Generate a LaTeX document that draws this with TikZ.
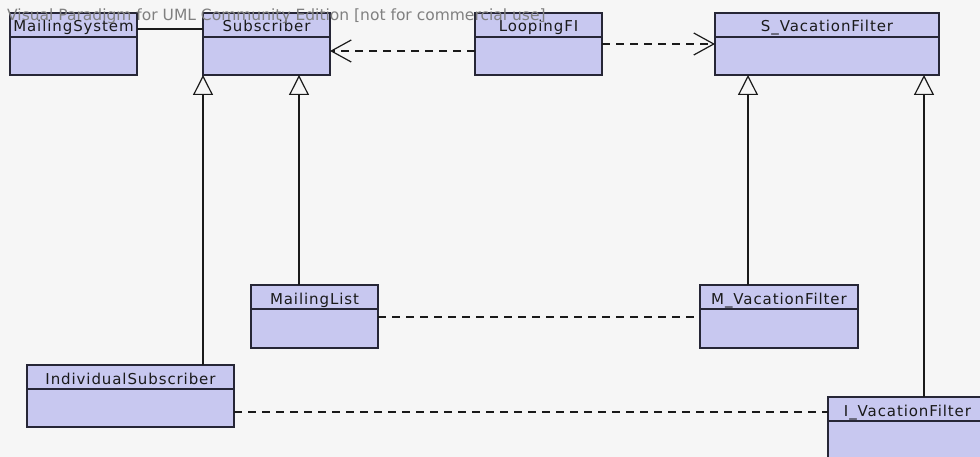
\documentclass[tikz,border=0pt]{standalone}
\usepackage{fontspec}
\usepackage{tikz}
\usetikzlibrary{arrows.meta}
\newfontfamily\umlfont[LetterSpace=6]{DejaVu Sans}
\newfontfamily\wmfont{DejaVu Sans}
\definecolor{bgc}{HTML}{F6F6F6}
\definecolor{clsfill}{HTML}{C8C8F0}
\definecolor{clsline}{HTML}{262636}
\definecolor{linec}{HTML}{1A1A1A}
\definecolor{wmgrey}{HTML}{808080}

\begin{document}
\begin{tikzpicture}[x=1pt, y=-1pt,
        cls/.style={draw=clsline, fill=clsfill, line width=1.5pt, anchor=north west, outer sep=0pt,
          inner xsep=0pt, inner ysep=0pt, minimum height=62pt, text height=19pt, text depth=43pt,
          font=\umlfont\fontsize{15}{17}\selectfont, text=linec,
          path picture={\draw[clsline, line width=1.5pt] ([yshift=-24pt]path picture bounding box.north west) -- ([yshift=-24pt]path picture bounding box.north east);}},
        assoc/.style={draw=linec, line width=1.2pt},
        link/.style={assoc, dash pattern=on 8pt off 6pt},
        dep/.style={link, -{Straight Barb[length=20pt, width=22pt, line width=1.2pt]}},
        gen/.style={assoc, -{Triangle[length=20pt, width=20pt, fill=bgc, line width=1.2pt]}},
        wm/.style={font=\wmfont\fontsize{15.5}{17}\selectfont, text=wmgrey, anchor=west, inner sep=0pt}]
      \fill[bgc] (0,0) rectangle (980,457);
      \useasboundingbox (0,0) rectangle (980,457);
      % classes
      \node[cls, minimum width=127pt] (ms) at (10,13) {MailingSystem};
      \node[cls, minimum width=127pt] (sub) at (203,13) {Subscriber};
      \node[cls, minimum width=127pt] (loop) at (475,13) {LoopingFI};
      \node[cls, minimum width=224pt] (svf) at (715,13) {S\_VacationFilter};
      \node[cls, minimum width=127pt, minimum height=63pt] (ml) at (251,285) {MailingList};
      \node[cls, minimum width=158pt, minimum height=63pt] (mvf) at (700,285) {M\_VacationFilter};
      \node[cls, minimum width=207pt] (isub) at (27,365) {IndividualSubscriber};
      \node[cls, minimum width=159pt] (ivf) at (828,397) {I\_VacationFilter};
      % connectors
      \draw[assoc] ([yshift=-16pt]ms.north east) -- ([yshift=-16pt]sub.north west);
      \draw[dep] ([yshift=-38pt]loop.north west) -- ([yshift=-38pt]sub.north east);
      \draw[dep] (loop.east) -- (svf.west);
      \draw[gen] ([xshift=176pt]isub.north west) -- ([xshift=176pt]isub.north west |- sub.south);
      \draw[gen] ([xshift=48pt]ml.north west) -- ([xshift=48pt]ml.north west |- sub.south);
      \draw[gen] ([xshift=48pt]mvf.north west) -- ([xshift=48pt]mvf.north west |- svf.south);
      \draw[gen] ([xshift=96pt]ivf.north west) -- ([xshift=96pt]ivf.north west |- svf.south);
      \draw[link] ([yshift=-32pt]ml.north east) -- ([yshift=-32pt]ml.north east -| mvf.west);
      \draw[link] ([yshift=-47pt]isub.north east) -- ([yshift=-47pt]isub.north east -| ivf.west);
      % watermark
      \node[wm] (mark) at (7,16) {Visual Paradigm for UML Community Edition [not for commercial use]};
    \end{tikzpicture}
\end{document}
